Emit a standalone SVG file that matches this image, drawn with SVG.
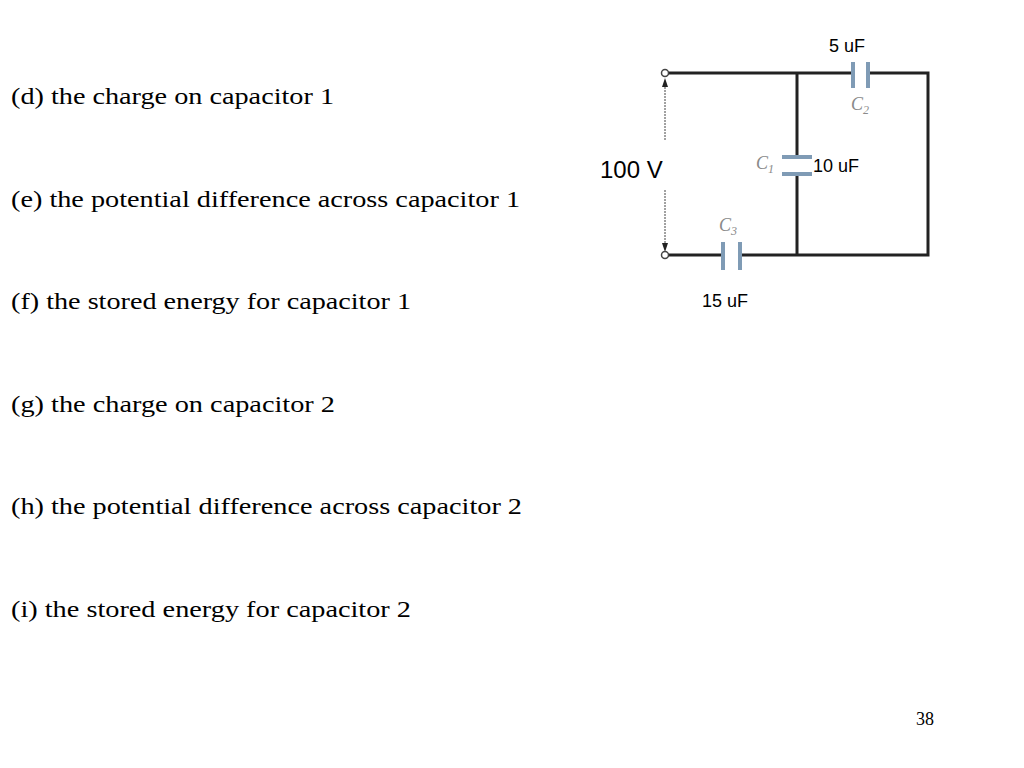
<svg xmlns="http://www.w3.org/2000/svg" width="1024" height="768" viewBox="0 0 1024 768">
<style>
.q{font-family:"Liberation Serif",serif;font-size:24px;fill:#000}
.v{font-family:"Liberation Sans",sans-serif;fill:#000}
.w{stroke:#222;stroke-width:3;fill:none}
.p{stroke:#7f9bb5;stroke-width:4}
.c{font-family:"Liberation Serif",serif;font-style:italic;font-size:18px;fill:#8a8a8a}
</style>
<rect width="1024" height="768" fill="#fff"/>
<g id="text">
<text class="q" x="11" y="104" textLength="323" lengthAdjust="spacingAndGlyphs">(d) the charge on capacitor 1</text>
<text class="q" x="11" y="207" textLength="509" lengthAdjust="spacingAndGlyphs">(e) the potential difference across capacitor 1</text>
<text class="q" x="11" y="309" textLength="400" lengthAdjust="spacingAndGlyphs">(f) the stored energy for capacitor 1</text>
<text class="q" x="11" y="412" textLength="324" lengthAdjust="spacingAndGlyphs">(g) the charge on capacitor 2</text>
<text class="q" x="11" y="514" textLength="511" lengthAdjust="spacingAndGlyphs">(h) the potential difference across capacitor 2</text>
<text class="q" x="11" y="617" textLength="400" lengthAdjust="spacingAndGlyphs">(i) the stored energy for capacitor 2</text>
<text x="916" y="725" style="font-family:'Liberation Serif',serif;font-size:18px">38</text>
</g>
<g id="connectors">
<path class="w" d="M668,73 H853 M868,73 H928 V255 H740 M723,255 H668"/>
<path class="w" d="M797,73 V157 M797,174 V255"/>
<line x1="665" y1="140" x2="665" y2="86" stroke="#444" stroke-width="1" stroke-dasharray="2,1"/>
<line x1="665" y1="190" x2="665" y2="244" stroke="#444" stroke-width="1" stroke-dasharray="2,1"/>
<path d="M665,78 L662,87 L668,87 Z M665,252 L662,243 L668,243 Z" fill="#222"/>
</g>
<g id="terminals" fill="#fff" stroke="#444" stroke-width="1.5">
<circle cx="665" cy="73" r="3.5"/><circle cx="665" cy="255" r="3.5"/>
</g>
<g id="C2"><line class="p" x1="853" y1="62" x2="853" y2="88"/><line class="p" x1="868" y1="62" x2="868" y2="88"/>
<text class="c" x="851" y="110">C<tspan font-size="12" dy="4">2</tspan></text>
<text class="v" x="829" y="52" font-size="18">5 uF</text></g>
<g id="C1"><line class="p" x1="782" y1="157" x2="812" y2="157"/><line class="p" x1="782" y1="174" x2="812" y2="174"/>
<text class="c" x="756" y="169">C<tspan font-size="12" dy="4">1</tspan></text>
<text class="v" x="813" y="172" font-size="18">10 uF</text></g>
<text class="c" x="719" y="231">C<tspan font-size="12" dy="4">3</tspan></text>
<g id="C3"><line class="p" x1="723" y1="242" x2="723" y2="270"/><line class="p" x1="740" y1="242" x2="740" y2="270"/>
<text class="v" x="702" y="307" font-size="18">15 uF</text></g>
<text class="v" x="600" y="178" font-size="24">100 V</text>
</svg>
